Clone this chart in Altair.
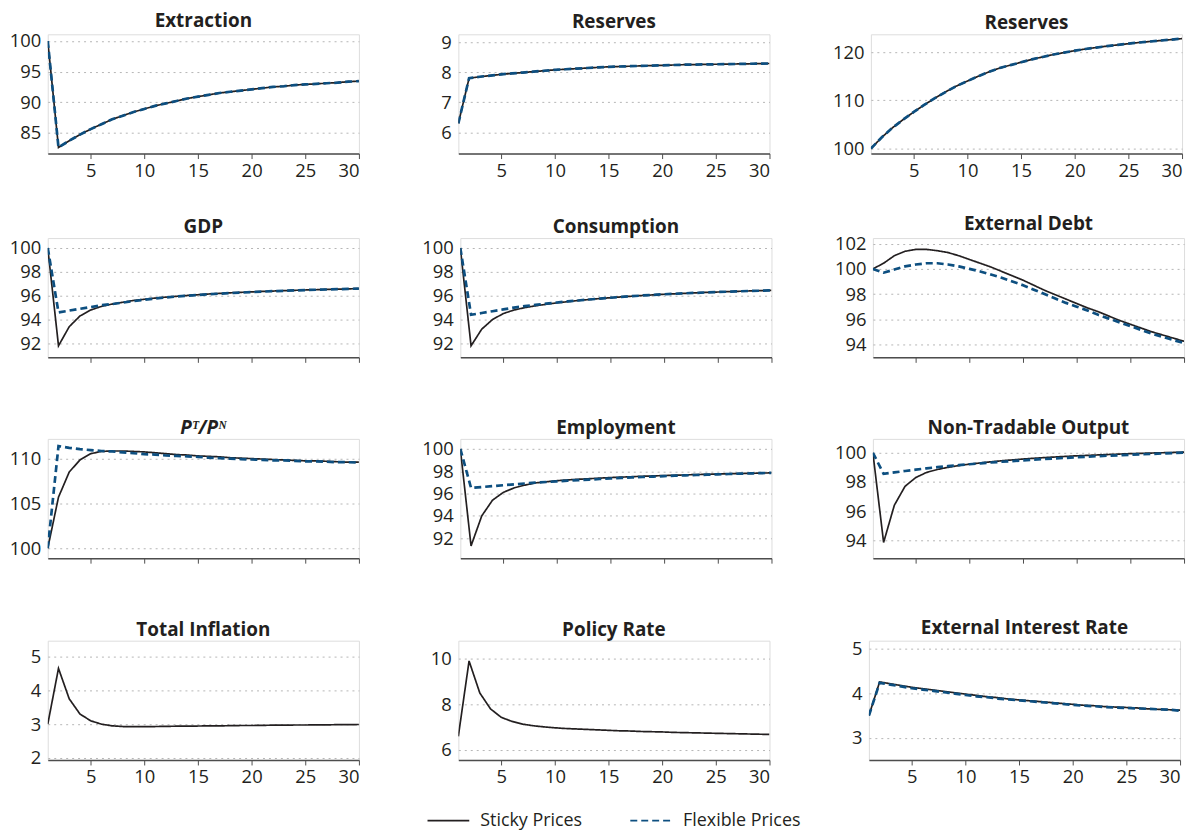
import altair as alt
import pandas as pd

periods = list(range(1, 31))
x_ticks = [5, 10, 15, 20, 25, 30]

extraction_sticky = [100, 82.6, 83.7, 84.7, 85.6, 86.4, 87.2, 87.8, 88.4, 88.9, 89.4, 89.8, 90.2, 90.6, 90.9,
                     91.2, 91.5, 91.7, 91.9, 92.1, 92.3, 92.5, 92.6, 92.8, 92.9, 93.0, 93.1, 93.2, 93.35, 93.45]
extraction_flex = [100, 82.6, 83.7, 84.7, 85.6, 86.4, 87.2, 87.8, 88.4, 88.9, 89.4, 89.8, 90.2, 90.6, 90.9,
                   91.2, 91.5, 91.7, 91.9, 92.1, 92.3, 92.5, 92.6, 92.8, 92.9, 93.0, 93.1, 93.2, 93.35, 93.45]

reserves_a_sticky = [6.3, 7.8, 7.85, 7.89, 7.93, 7.96, 7.99, 8.02, 8.05, 8.08, 8.1, 8.12, 8.14, 8.16, 8.18,
                     8.19, 8.2, 8.21, 8.22, 8.23, 8.24, 8.25, 8.255, 8.26, 8.265, 8.27, 8.275, 8.28, 8.285, 8.29]
reserves_a_flex = [6.3, 7.8, 7.85, 7.89, 7.93, 7.96, 7.99, 8.02, 8.05, 8.08, 8.1, 8.12, 8.14, 8.16, 8.18,
                   8.19, 8.2, 8.21, 8.22, 8.23, 8.24, 8.25, 8.255, 8.26, 8.265, 8.27, 8.275, 8.28, 8.285, 8.29]

reserves_b_sticky = [100, 102.3, 104.3, 106.0, 107.6, 109.1, 110.5, 111.8, 113.0, 114.0, 115.0, 115.9, 116.7,
                     117.3, 117.9, 118.5, 119.0, 119.5, 119.9, 120.3, 120.65, 120.95, 121.25, 121.5, 121.75,
                     122.0, 122.2, 122.4, 122.6, 122.8]
reserves_b_flex = [100, 102.3, 104.3, 106.0, 107.6, 109.1, 110.5, 111.8, 113.0, 114.0, 115.0, 115.9, 116.7,
                   117.3, 117.9, 118.5, 119.0, 119.5, 119.9, 120.3, 120.65, 120.95, 121.25, 121.5, 121.75,
                   122.0, 122.2, 122.4, 122.6, 122.8]

gdp_sticky = [100, 91.8, 93.4, 94.3, 94.8, 95.1, 95.3, 95.45, 95.6, 95.7, 95.8, 95.88, 95.95, 96.02, 96.08,
              96.14, 96.19, 96.24, 96.28, 96.32, 96.36, 96.39, 96.42, 96.45, 96.48, 96.5, 96.53, 96.55, 96.57, 96.6]
gdp_flex = [100, 94.6, 94.75, 94.9, 95.05, 95.2, 95.3, 95.42, 95.55, 95.66, 95.76, 95.85, 95.93, 96.0, 96.06,
            96.12, 96.17, 96.22, 96.26, 96.3, 96.34, 96.38, 96.41, 96.44, 96.47, 96.5, 96.52, 96.55, 96.57, 96.6]

cons_sticky = [100, 91.8, 93.2, 94.0, 94.5, 94.8, 95.0, 95.15, 95.28, 95.4, 95.5, 95.6, 95.68, 95.76, 95.83,
               95.9, 95.96, 96.02, 96.07, 96.12, 96.16, 96.2, 96.24, 96.28, 96.31, 96.34, 96.37, 96.4, 96.42, 96.45]
cons_flex = [100, 94.4, 94.55, 94.7, 94.85, 95.0, 95.12, 95.23, 95.33, 95.43, 95.52, 95.6, 95.68, 95.76, 95.83,
             95.9, 95.96, 96.02, 96.07, 96.12, 96.16, 96.2, 96.24, 96.28, 96.31, 96.34, 96.37, 96.4, 96.42, 96.45]

debt_sticky = [100, 100.45, 101.05, 101.4, 101.55, 101.55, 101.45, 101.3, 101.05, 100.75, 100.45, 100.15, 99.8,
               99.45, 99.1, 98.7, 98.3, 97.95, 97.6, 97.25, 96.9, 96.6, 96.25, 95.9, 95.6, 95.3, 95.0, 94.75,
               94.5, 94.25]
debt_flex = [100, 99.7, 99.95, 100.2, 100.35, 100.45, 100.45, 100.35, 100.2, 100.0, 99.8, 99.55, 99.3, 99.0,
             98.7, 98.35, 98.0, 97.65, 97.3, 97.0, 96.7, 96.35, 96.05, 95.75, 95.45, 95.15, 94.85, 94.6, 94.35, 94.1]

ptpn_sticky = [100, 105.7, 108.5, 109.85, 110.55, 110.8, 110.85, 110.85, 110.8, 110.75, 110.65, 110.55, 110.45,
               110.4, 110.3, 110.25, 110.2, 110.1, 110.05, 110.0, 109.95, 109.9, 109.85, 109.8, 109.75, 109.75,
               109.7, 109.65, 109.6, 109.6]
ptpn_flex = [100, 111.4, 111.2, 111.05, 110.95, 110.85, 110.8, 110.7, 110.6, 110.5, 110.45, 110.35, 110.3, 110.25,
             110.2, 110.1, 110.05, 110.0, 109.95, 109.9, 109.85, 109.8, 109.8, 109.75, 109.7, 109.7, 109.65,
             109.6, 109.6, 109.55]

emp_sticky = [100, 91.3, 94.0, 95.4, 96.1, 96.5, 96.75, 96.95, 97.05, 97.15, 97.22, 97.28, 97.33, 97.38, 97.43,
              97.47, 97.51, 97.55, 97.58, 97.61, 97.64, 97.67, 97.7, 97.72, 97.75, 97.77, 97.79, 97.81, 97.83, 97.85]
emp_flex = [100, 96.5, 96.58, 96.66, 96.74, 96.82, 96.9, 96.97, 97.03, 97.09, 97.15, 97.2, 97.25, 97.3, 97.35,
            97.4, 97.44, 97.48, 97.52, 97.56, 97.6, 97.63, 97.66, 97.69, 97.72, 97.75, 97.78, 97.8, 97.83, 97.85]

nto_sticky = [100, 93.85, 96.4, 97.7, 98.3, 98.65, 98.85, 99.0, 99.12, 99.22, 99.3, 99.38, 99.45, 99.51, 99.57,
              99.62, 99.67, 99.71, 99.75, 99.79, 99.82, 99.85, 99.88, 99.91, 99.94, 99.96, 99.98, 100.0, 100.02,
              100.04]
nto_flex = [100, 98.55, 98.65, 98.75, 98.84, 98.93, 99.01, 99.08, 99.15, 99.21, 99.27, 99.33, 99.38, 99.43,
            99.48, 99.53, 99.57, 99.61, 99.65, 99.69, 99.73, 99.77, 99.8, 99.83, 99.86, 99.89, 99.92, 99.95,
            99.98, 100.01]

infl_sticky = [3.0, 4.65, 3.75, 3.3, 3.1, 3.0, 2.95, 2.93, 2.93, 2.93, 2.93, 2.935, 2.94, 2.94, 2.945, 2.95,
               2.95, 2.955, 2.96, 2.96, 2.965, 2.97, 2.97, 2.975, 2.975, 2.98, 2.98, 2.985, 2.985, 2.99]

policy_sticky = [6.6, 9.9, 8.5, 7.8, 7.43, 7.25, 7.13, 7.06, 7.01, 6.97, 6.94, 6.92, 6.9, 6.88, 6.86, 6.84,
                 6.83, 6.81, 6.8, 6.79, 6.77, 6.76, 6.75, 6.74, 6.73, 6.72, 6.71, 6.7, 6.69, 6.68]

ext_rate_sticky = [3.5, 4.25, 4.21, 4.17, 4.13, 4.1, 4.07, 4.04, 4.01, 3.98, 3.95, 3.92, 3.9, 3.87, 3.85, 3.83,
                   3.81, 3.79, 3.77, 3.75, 3.73, 3.72, 3.7, 3.69, 3.68, 3.67, 3.65, 3.64, 3.63, 3.62]
ext_rate_flex = [3.5, 4.23, 4.19, 4.15, 4.11, 4.08, 4.05, 4.02, 3.99, 3.96, 3.93, 3.91, 3.88, 3.86, 3.84, 3.82,
                 3.8, 3.78, 3.76, 3.74, 3.72, 3.71, 3.69, 3.68, 3.67, 3.66, 3.65, 3.64, 3.63, 3.61]

series_names = ["Sticky Prices", "Flexible Prices"]
BLACK = "#231f20"
BLUE = "#0d4f80"
FONT = "Open Sans"

W, H = 313, 120

color_scale = alt.Scale(domain=series_names, range=[BLACK, BLUE])
dash_scale = alt.Scale(domain=series_names, range=[[1, 0], [7, 4]])
legend_obj = alt.Legend(
    title=None, orient="none", direction="horizontal", legendX=381, legendY=769,
    symbolType="stroke", symbolSize=1764, symbolStrokeWidth=2, labelFontSize=18,
    labelFont=FONT, labelColor=BLACK, columnPadding=44, labelOffset=10,
)


def panel(title, ticks, domain, sticky, flex=None, show_labels=True, italic=False):
    x = alt.X("t:Q", scale=alt.Scale(domain=[1, 30], nice=False, zero=False),
              axis=alt.Axis(values=x_ticks, title=None, grid=False, labelOpacity=1 if show_labels else 0,
                            tickSize=5, domainColor="#4d4d4d", tickColor="#4d4d4d", domainWidth=1.5,
                            labelFontSize=18.5, labelPadding=3, labelFont=FONT, labelColor=BLACK, format="d",
                            minExtent=30, maxExtent=30))
    y = alt.Y("value:Q", scale=alt.Scale(domain=domain, nice=False, zero=False),
              axis=alt.Axis(values=ticks, title=None, grid=True, gridDash=[2, 4], gridColor="#b5b5b5",
                            domain=False, ticks=False, minExtent=37, maxExtent=37, labelPadding=7,
                            labelFontSize=18.5, labelFont=FONT, labelColor=BLACK, format="d"))
    color = alt.Color("series:N", scale=color_scale, legend=legend_obj)
    dash = alt.StrokeDash("series:N", scale=dash_scale, legend=legend_obj)
    df_s = pd.DataFrame({"t": periods, "value": sticky, "series": "Sticky Prices"})
    layers = [alt.Chart(df_s).mark_line(strokeWidth=1.7, clip=True).encode(x=x, y=y, color=color, strokeDash=dash)]
    if flex is not None:
        df_f = pd.DataFrame({"t": periods, "value": flex, "series": "Flexible Prices"})
        layers.append(alt.Chart(df_f).mark_line(strokeWidth=2.7, clip=True).encode(x=x, y=y, color=color,
                                                                                   strokeDash=dash))
    ttl = alt.Title(title, fontSize=19, font=FONT, fontWeight="bold", color=BLACK,
                    fontStyle="italic" if italic else "normal", offset=1)
    return alt.layer(*layers).properties(width=W, height=H, title=ttl)


row1 = alt.hconcat(
    panel("Extraction", [85, 90, 95, 100], [81.6, 101.1], extraction_sticky, extraction_flex),
    panel("Reserves", [6, 7, 8, 9], [5.3, 9.26], reserves_a_sticky, reserves_a_flex),
    panel("Reserves", [100, 110, 120], [98.97, 123.7], reserves_b_sticky, reserves_b_flex),
    spacing=61,
).resolve_scale(y="independent")
row2 = alt.hconcat(
    panel("GDP", [92, 94, 96, 98, 100], [90.83, 100.83], gdp_sticky, gdp_flex, show_labels=False),
    panel("Consumption", [92, 94, 96, 98, 100], [90.83, 100.83], cons_sticky, cons_flex, show_labels=False),
    panel("External Debt", [94, 96, 98, 100, 102], [92.97, 102.45], debt_sticky, debt_flex, show_labels=False),
    spacing=61,
).resolve_scale(y="independent")
row3 = alt.hconcat(
    panel("P\u1d40/P\u1d3a", [100, 105, 110], [98.89, 112.2], ptpn_sticky, ptpn_flex, show_labels=False,
          italic=True),
    panel("Employment", [92, 94, 96, 98, 100], [90.2, 100.9], emp_sticky, emp_flex, show_labels=False),
    panel("Non-Tradable Output", [94, 96, 98, 100], [92.77, 100.95], nto_sticky, nto_flex, show_labels=False),
    spacing=61,
).resolve_scale(y="independent")
row4 = alt.hconcat(
    panel("Total Inflation", [2, 3, 4, 5], [1.94, 5.47], infl_sticky),
    panel("Policy Rate", [6, 8, 10], [5.56, 10.79], policy_sticky),
    panel("External Interest Rate", [3, 4, 5], [2.51, 5.17], ext_rate_sticky, ext_rate_flex),
    spacing=61,
).resolve_scale(y="independent")

chart = alt.vconcat(row1, row2, row3, row4, spacing=30).resolve_scale(
    y="independent", x="independent", color="shared", strokeDash="shared"
).properties(
    padding={"left": 0, "top": 1, "right": 5, "bottom": 0}
).configure_view(stroke=None).configure(background="white")

chart.save("out.html", embed_options={"renderer": "svg", "actions": False})
